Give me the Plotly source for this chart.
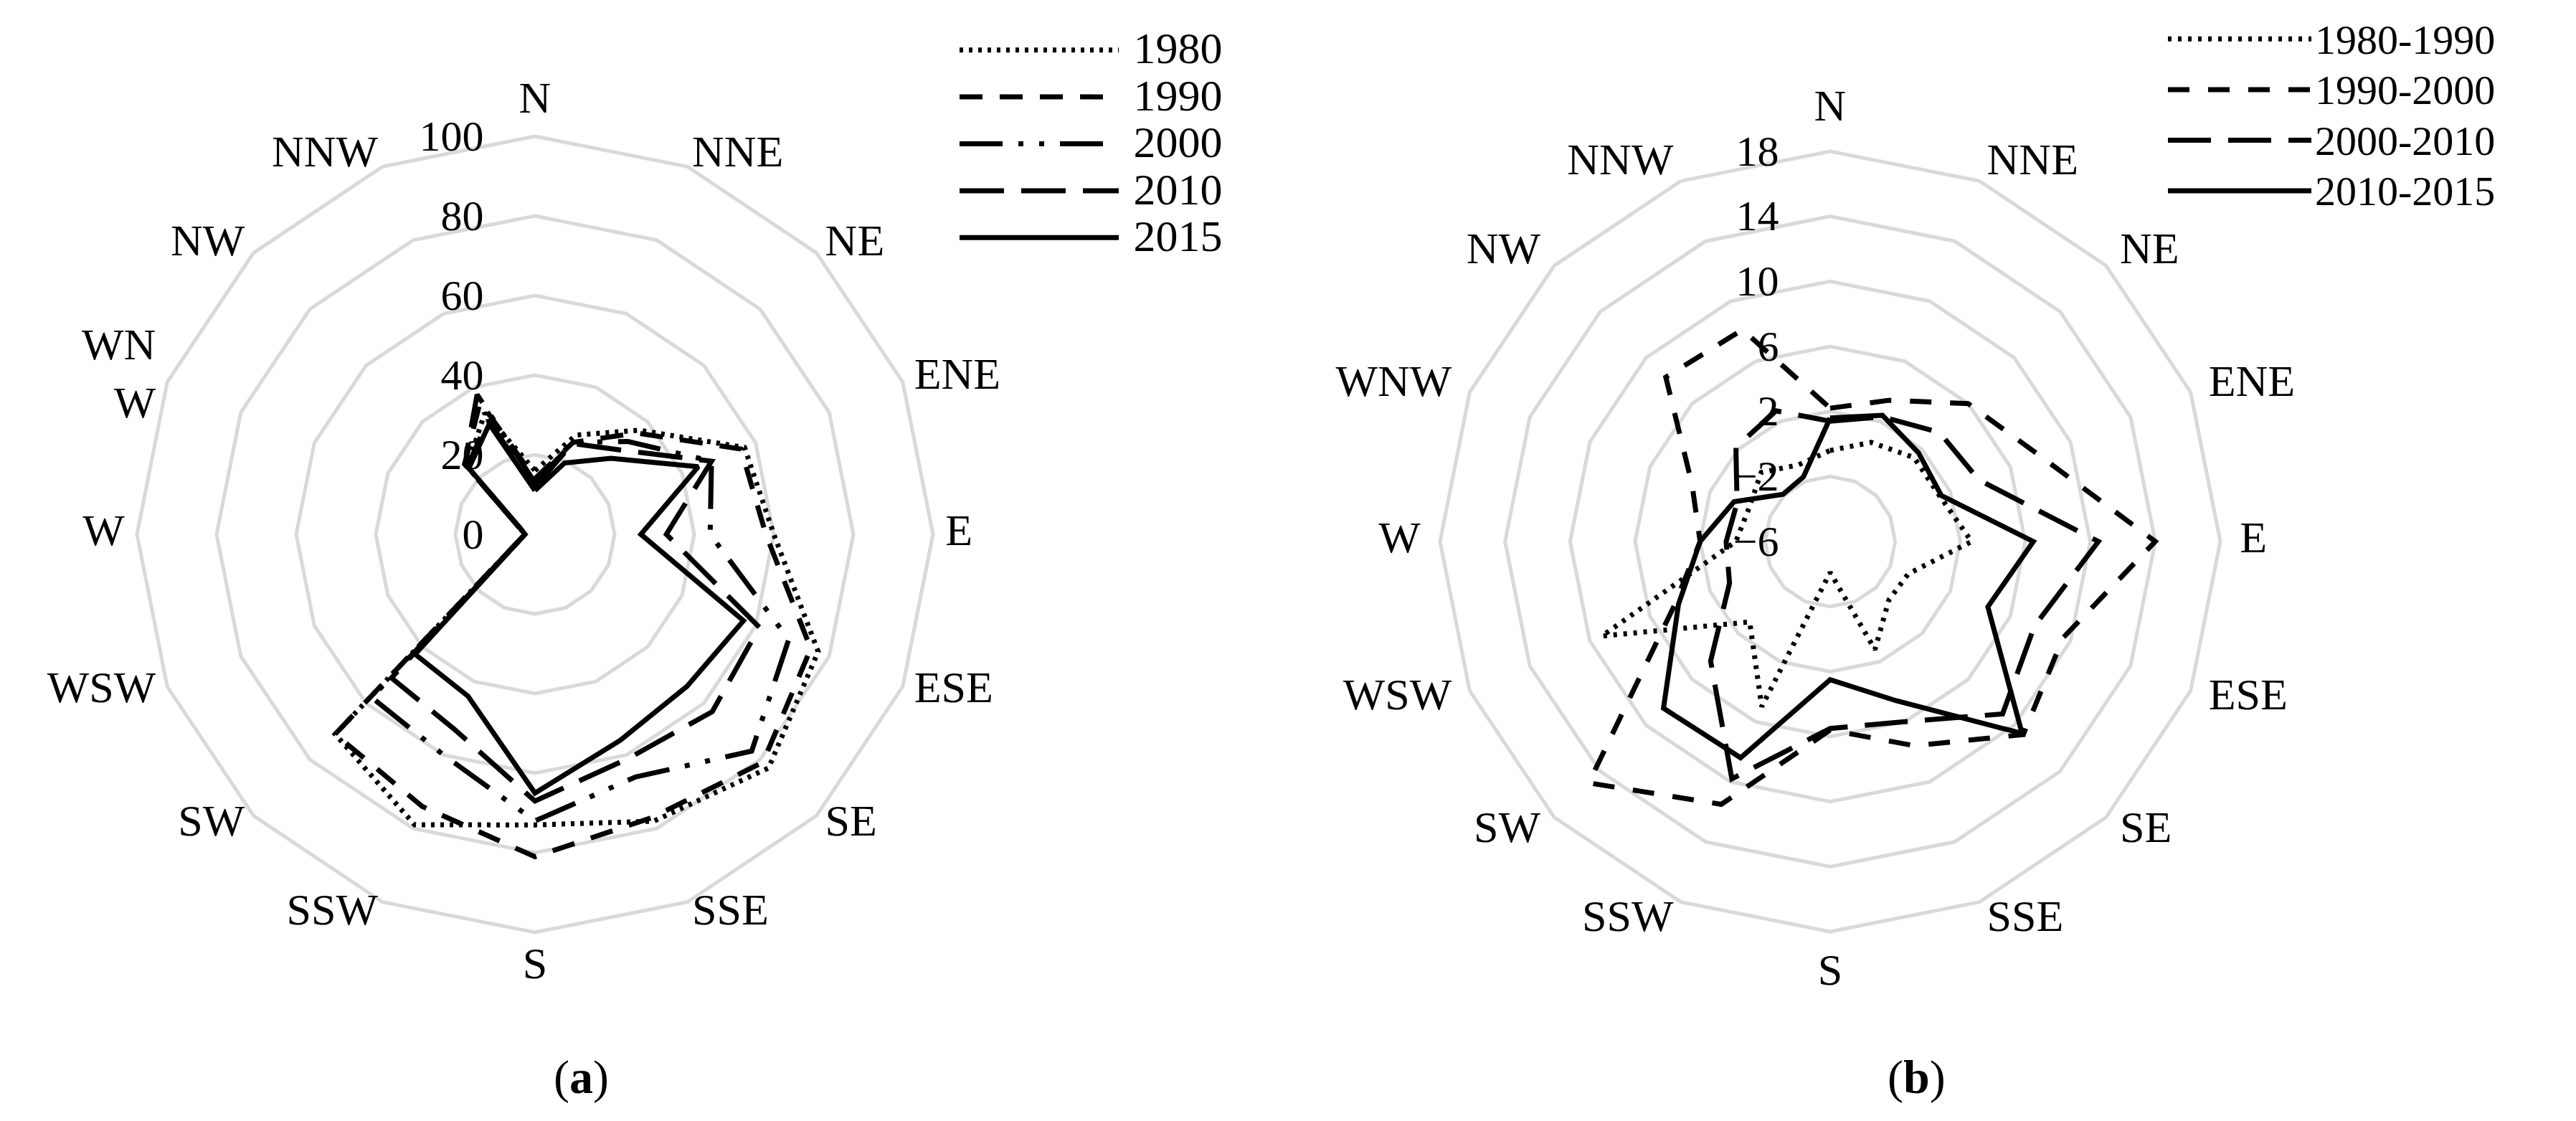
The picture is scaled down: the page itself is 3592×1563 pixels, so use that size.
import plotly.graph_objects as go

# wind directions, clockwise from north
directions = ['N', 'NNE', 'NE', 'ENE', 'E', 'ESE', 'SE', 'SSE',
              'S', 'SSW', 'SW', 'WSW', 'W', 'WNW', 'NW', 'NNW']
labels_a = directions[:13] + ['WN<br>W'] + directions[14:]
labels_b = directions

# (a) values by year
y1980 = [16, 27, 37, 57, 60, 77, 83, 78, 73, 79, 71, 4.5, 2.5, 4.2, 24, 33]
y1990 = [14, 25, 36, 56, 58, 75, 81, 77, 81, 74, 71, 4.5, 2.5, 4.2, 25, 36]
y2000 = [13, 25, 33, 48, 44, 69, 77, 66, 72, 60, 58, 4.5, 2.5, 4.2, 25, 38]
y2010 = [12, 24.7, 30, 48, 33, 61, 63, 61, 67, 53, 51, 4.5, 2.5, 4.2, 24, 31]
y2015 = [11, 19.4, 27, 44.4, 26.6, 56.7, 54, 56, 65, 44, 42.6, 4.4, 2.5, 4.0, 23.5, 30]

# (b) change between periods
p1980_1990 = [-0.4, 0.6, 1.3, 1.3, 2.7, -0.8, -0.9, 1.2, -4.1, 5.0, 1.0, 9.2, -0.2, -0.6, 0.0, -0.9]
p1990_2000 = [2.2, 3.4, 6.0, 7.9, 14.0, 9.5, 10.8, 7.6, 5.6, 11.5, 15.0, 4.4, 2.0, 3.2, 8.3, 8.1]
p2000_2010 = [1.4, 2.3, 3.5, 3.9, 10.5, 7.6, 9.0, 6.0, 5.5, 9.8, 4.4, 0.7, 0.4, 0.2, 2.2, 2.7]
p2010_2015 = [1.6, 2.4, 1.7, 1.4, 6.5, 4.5, 10.7, 4.6, 2.5, 8.4, 8.5, 4.1, 2.0, 0.4, -1.9, -1.7]

ticks_a = [0, 20, 40, 60, 80, 100]
ticks_b = [-6, -2, 2, 6, 10, 14, 18]

# radial range of each chart (a little past the last ring, room for the names)
range_a = [0, 108.5]
range_b = [-6, 20.5]
# radius where the direction names are anchored
label_r_a = 103.1
label_r_b = 19.2
# names on the right side start at the anchor, on the left side end at it
label_pos = (['top center'] + ['middle right'] * 7 + ['bottom center']
             + ['middle left'] * 7)

FONT = 'Liberation Serif'
GRID = '#d9d9d9'


def closed(v):
    return list(v) + [v[0]]


fig = go.Figure()

series_a = [
    ('1980', y1980, '5px,8px'),
    ('1990', y1990, '32px,24px'),
    ('2000', y2000, '60px,22px,7px,22px,7px,22px'),
    ('2010', y2010, '62px,24px'),
    ('2015', y2015, 'solid'),
]
for name, vals, dash in series_a:
    fig.add_trace(go.Scatterpolar(
        r=closed(vals), theta=closed(directions),
        name='<span style="font-size:62px">&nbsp;%s</span>' % name, mode='lines',
        line=dict(color='black', width=7, dash=dash),
        subplot='polar', legend='legend', hoverinfo='skip'))

series_b = [
    ('1980-1990', p1980_1990, '5px,9px'),
    ('1990-2000', p1990_2000, '30px,26px'),
    ('2000-2010', p2000_2010, '60px,24px'),
    ('2010-2015', p2010_2015, 'solid'),
]
for name, vals, dash in series_b:
    fig.add_trace(go.Scatterpolar(
        r=closed(vals), theta=closed(directions),
        name='<span style="font-size:58px">%s</span>' % name, mode='lines',
        line=dict(color='black', width=7, dash=dash),
        subplot='polar2', legend='legend2', hoverinfo='skip'))

# direction names just outside the outer ring
for sub, rr, txt in [('polar', label_r_a, labels_a), ('polar2', label_r_b, labels_b)]:
    fig.add_trace(go.Scatterpolar(
        r=[rr] * len(directions), theta=directions, text=txt, mode='text',
        textposition=label_pos, cliponaxis=False, showlegend=False,
        textfont=dict(family=FONT, size=62, color='black'),
        subplot=sub, hoverinfo='skip'))


def polar_layout(cx, cy, radius, rng, tickvals):
    return dict(
        domain=dict(x=[(cx - radius) / W, (cx + radius) / W],
                    y=[1 - (cy + radius) / H, 1 - (cy - radius) / H]),
        gridshape='linear',
        bgcolor='white',
        radialaxis=dict(range=rng, tickvals=tickvals, angle=90, tickangle=90,
                        side='counterclockwise', showline=False,
                        gridcolor=GRID, gridwidth=5,
                        ticks='outside', ticklen=50, tickcolor='rgba(0,0,0,0)',
                        tickfont=dict(family=FONT, size=60, color='black')),
        angularaxis=dict(rotation=90, direction='clockwise',
                         categoryarray=directions, type='category',
                         showgrid=False, showline=False,
                         ticks='', showticklabels=False),
    )


W, H = 3592, 1563
# outer ring radius in px: 555 for (a), 544 for (b)
ra = 555 * (range_a[1] - range_a[0]) / (ticks_a[-1] - range_a[0])
rb = 544 * (range_b[1] - range_b[0]) / (ticks_b[-1] - range_b[0])

fig.update_layout(
    width=W, height=H,
    margin=dict(l=0, r=0, t=0, b=0),
    paper_bgcolor='white', plot_bgcolor='white',
    font=dict(family=FONT, color='black'),
    polar=polar_layout(738, 737, ra, range_a, ticks_a),
    polar2=polar_layout(2544, 747, rb, range_b, ticks_b),
    legend=dict(x=1325 / W, y=1 - 24 / H, xanchor='left', yanchor='top',
                itemwidth=222, font=dict(family=FONT, size=48),
                bgcolor='rgba(0,0,0,0)', tracegroupgap=0),
    legend2=dict(x=3010 / W, y=1 - 6 / H, xanchor='left', yanchor='top',
                 itemwidth=200, font=dict(family=FONT, size=52),
                 bgcolor='rgba(0,0,0,0)', tracegroupgap=0),
    annotations=[
        dict(text='(<b>a</b>)', x=802 / W, y=1 - 1494 / H, xref='paper', yref='paper',
             xanchor='center', yanchor='middle',
             showarrow=False, font=dict(family=FONT, size=66)),
        dict(text='(<b>b</b>)', x=2664 / W, y=1 - 1494 / H, xref='paper', yref='paper',
             xanchor='center', yanchor='middle',
             showarrow=False, font=dict(family=FONT, size=66)),
    ],
)

fig.write_html('out.html')
